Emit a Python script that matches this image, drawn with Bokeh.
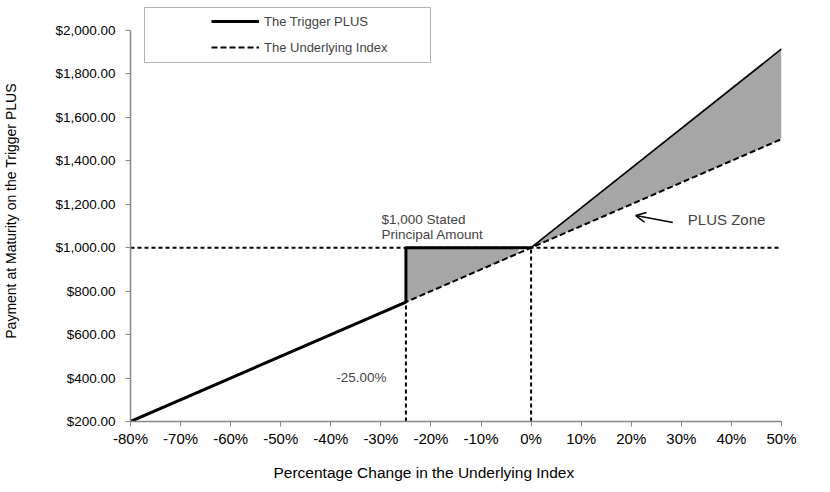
from bokeh.plotting import figure
from bokeh.models import (Legend, LegendItem, NumeralTickFormatter, FixedTicker, Title,
                          Label, Arrow, OpenHead, Range1d, BoxAnnotation, CustomJSTickFormatter)
from bokeh.embed import file_html
from bokeh.resources import INLINE

# ---- data ----
trigger_x = [-80, -25, -25, 0, 50]
trigger_y = [200, 750, 1000, 1000, 1915]
under_x = [-80, 50]
under_y = [200, 1500]
principal = 1000
barrier = -25
zone1_x = [-25, -2.5, -2.5, -25]
zone1_y = [1000, 1000, 975, 750]
zone2_x = [0, 50, 50]
zone2_y = [1000, 1915, 1500]
x_ticks = [-80, -70, -60, -50, -40, -30, -20, -10, 0, 10, 20, 30, 40, 50]
y_ticks = [200, 400, 600, 800, 1000, 1200, 1400, 1600, 1800, 2000]

FONT = "Liberation Sans"
GRAY = "#A6A6A6"

# layout: axis area spans 391 px; 30 px of headroom above the top tick hold the legend
AXIS_PX = 391
HEAD_PX = 30
y_top = y_ticks[-1] + HEAD_PX * (y_ticks[-1] - y_ticks[0]) / AXIS_PX

p = figure(width=814, height=492, output_backend="svg", toolbar_location=None,
           x_range=Range1d(x_ticks[0], x_ticks[-1]), y_range=Range1d(y_ticks[0], y_top),
           min_border_left=129, min_border_right=33, min_border_top=0, min_border_bottom=71)
p.outline_line_color = None
p.grid.visible = False

# shaded zones
p.patch(zone1_x, zone1_y, fill_color=GRAY, line_color=None)
p.patch(zone2_x, zone2_y, fill_color=GRAY, line_color=None)

# reference dashed lines
p.line([x_ticks[0], x_ticks[-1]], [principal, principal], line_color="black", line_width=2, line_dash="4 3")
p.line([barrier, barrier], [y_ticks[0], trigger_y[1]], line_color="black", line_width=2, line_dash="4 3")
p.line([0, 0], [y_ticks[0], principal], line_color="black", line_width=2, line_dash="4 3")

r_under = p.line(under_x, under_y, line_color="black", line_width=2, line_dash="6 3")
r_trig = p.line(trigger_x[:4], trigger_y[:4], line_color="black", line_width=3)
p.line(trigger_x[3:], trigger_y[3:], line_color="black", line_width=1.6)

# axes
p.xaxis.ticker = FixedTicker(ticks=x_ticks)
p.yaxis.ticker = FixedTicker(ticks=y_ticks)
p.yaxis.bounds = (y_ticks[0], y_ticks[-1])
p.xaxis.formatter = CustomJSTickFormatter(code="return tick + '%';")
p.yaxis.formatter = NumeralTickFormatter(format="$0,0.00")
for ax in (p.xaxis, p.yaxis):
    ax.axis_line_color = "#868686"
    ax.axis_line_width = 1.5
    ax.major_tick_line_color = "#868686"
    ax.major_tick_in = 0
    ax.major_tick_out = 5
    ax.minor_tick_line_color = None
    ax.major_label_text_font = FONT
    ax.major_label_text_color = "black"
    ax.axis_label_text_font = FONT
    ax.axis_label_text_font_style = "normal"
    ax.axis_label_text_color = "black"
p.xaxis.major_label_text_font_size = "15px"
p.yaxis.major_label_text_font_size = "13.5px"
p.yaxis.axis_label_text_font_size = "14px"
p.yaxis.axis_label = "Payment at Maturity on the Trigger PLUS"
p.yaxis.axis_label_standoff = 33
p.xaxis.major_label_standoff = 3
p.yaxis.major_label_standoff = 10

# x-axis title, left-aligned like the original
p.add_layout(Title(text="Percentage Change in the Underlying Index", align="left", offset=143,
                   text_font=FONT, text_font_size="15.5px", text_font_style="normal",
                   text_color="black", standoff=24), "below")

# annotations
p.add_layout(Label(x=-29.9, y=1130, text="$1,000 Stated", text_font=FONT,
                   text_font_size="13.5px", text_baseline="alphabetic"))
p.add_layout(Label(x=-29.9, y=1061, text="Principal Amount", text_font=FONT,
                   text_font_size="13.5px", text_baseline="alphabetic"))
p.add_layout(Label(x=-38.9, y=402, text="-25.00%", text_font=FONT, text_font_size="13.5px",
                   text_baseline="middle"))
p.add_layout(Label(x=31.3, y=1130, text="PLUS Zone", text_font=FONT, text_font_size="15px",
                   text_baseline="middle"))
p.add_layout(Arrow(x_start=28.3, y_start=1116, x_end=20.9, y_end=1148, line_width=1.5,
                   end=OpenHead(size=10, line_width=1.5)))

# legend box and legend
p.add_layout(BoxAnnotation(left=144, right=430, top=7, bottom=62,
                           left_units="canvas", right_units="canvas",
                           top_units="canvas", bottom_units="canvas",
                           fill_color="white", fill_alpha=1, line_color="black", line_width=1,
                           editable=False))
legend = Legend(items=[LegendItem(label="The Trigger PLUS", renderers=[r_trig]),
                       LegendItem(label="The Underlying Index", renderers=[r_under])],
                location=(76, 359), orientation="vertical",
                border_line_alpha=0, background_fill_alpha=0,
                padding=5, spacing=6, glyph_width=48, label_standoff=5,
                label_text_font=FONT, label_text_font_size="13px",
                margin=0)
p.add_layout(legend, "center")

open("out.html", "w").write(file_html(p, INLINE))
